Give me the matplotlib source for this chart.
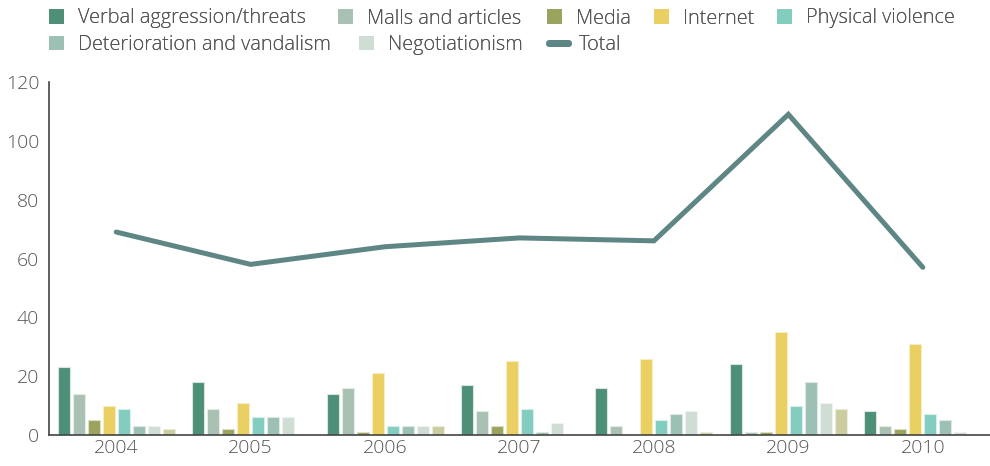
import matplotlib
matplotlib.use("Agg")
import matplotlib.pyplot as plt
from matplotlib.lines import Line2D
from matplotlib.patches import Patch
import numpy as np

years = ["2004", "2005", "2006", "2007", "2008", "2009", "2010"]

series_names = [
    "Verbal aggression/threats",
    "Malls and articles",
    "Media",
    "Internet",
    "Physical violence",
    "Deterioration and vandalism",
    "Negotiationism",
    "",
]
verbal = [23, 18, 14, 17, 16, 24, 8]
malls = [14, 9, 16, 8, 3, 1, 3]
media = [5, 2, 1, 3, 0, 1, 2]
internet = [10, 11, 21, 25, 26, 35, 31]
physical = [9, 6, 3, 9, 5, 10, 7]
vandalism = [3, 6, 3, 1, 7, 18, 5]
negotiationism = [3, 6, 3, 4, 8, 11, 1]
other = [2, 0, 3, 0, 1, 9, 0]
total = [69, 58, 64, 67, 66, 109, 57]

series_values = [verbal, malls, media, internet, physical, vandalism, negotiationism, other]
colors = ["#4E8F78", "#A8C1B3", "#9CA35E", "#EACF62", "#82CCC0",
          "#9DC0B4", "#CFDDD5", "#CBCDA1"]
edge_colors = ["#D7E7E0", "#E4ECE7", "#DCE0C4", "#F8EDC2", "#D5EFEA",
               "#DCE8E3", "#EEF3F0", "#EBECD9"]
line_color = "#5E8684"
text_color = "#555555"

plt.rcParams["font.family"] = ["Open Sans", "DejaVu Sans"]
plt.rcParams["font.weight"] = 300

W, H = 990, 466
fig = plt.figure(figsize=(W / 100, H / 100), dpi=100)
ax = fig.add_axes([49 / W, 1 - 435 / H, (W - 49) / W, (435 - 82) / H])

x = np.arange(len(years))
n = len(series_values)
step = 0.1116
width = 0.089
for i, (vals, c, ec) in enumerate(zip(series_values, colors, edge_colors)):
    offs = (i - (n - 1) / 2) * step
    ax.bar(x + offs, vals, width=width, color=c, edgecolor=ec, linewidth=0.8, zorder=2)

ax.plot(x, total, color=line_color, linewidth=3.6, solid_capstyle="round",
        solid_joinstyle="miter", zorder=3)

ax.set_xlim(-0.5, len(years) - 0.5)
ax.set_ylim(0, 120)
ax.set_yticks(range(0, 121, 20))
ax.set_xticks(x)
ax.set_xticklabels(years)
ax.tick_params(axis="both", length=0, labelsize=14, labelcolor=text_color)
ax.tick_params(axis="y", pad=7)
ax.tick_params(axis="x", pad=3)
for s in ["top", "right"]:
    ax.spines[s].set_visible(False)
for s in ["left", "bottom"]:
    ax.spines[s].set_color("#444444")
    ax.spines[s].set_linewidth(1.2)
ax.patch.set_alpha(0)

# Legend laid out as a flowing two-row list: one single-entry legend per item
handles = [Patch(facecolor=c, edgecolor="none") for c in colors[:7]]
handles.append(Line2D([0], [0], color=line_color, linewidth=5, solid_capstyle="round"))
labels = series_names[:7] + ["Total"]
slots = [(49, 18.5), (338, 18.5), (547, 18.5), (654, 18.5), (777, 18.5),
         (49, 45), (359, 45), (549, 45)]
for h, lab, (px, py) in zip(handles, labels, slots):
    is_line = isinstance(h, Line2D)
    leg = fig.legend([h], [lab], loc="center left",
                     bbox_to_anchor=(px / W, 1 - py / H), frameon=False,
                     fontsize=14.3, handlelength=0.95 if is_line else 0.75,
                     handleheight=0.75,
                     handletextpad=0.55 if is_line else 0.7,
                     labelcolor=text_color, borderaxespad=0.0, borderpad=0.0)
    fig.add_artist(leg)

fig.savefig("out.png", dpi=100)
